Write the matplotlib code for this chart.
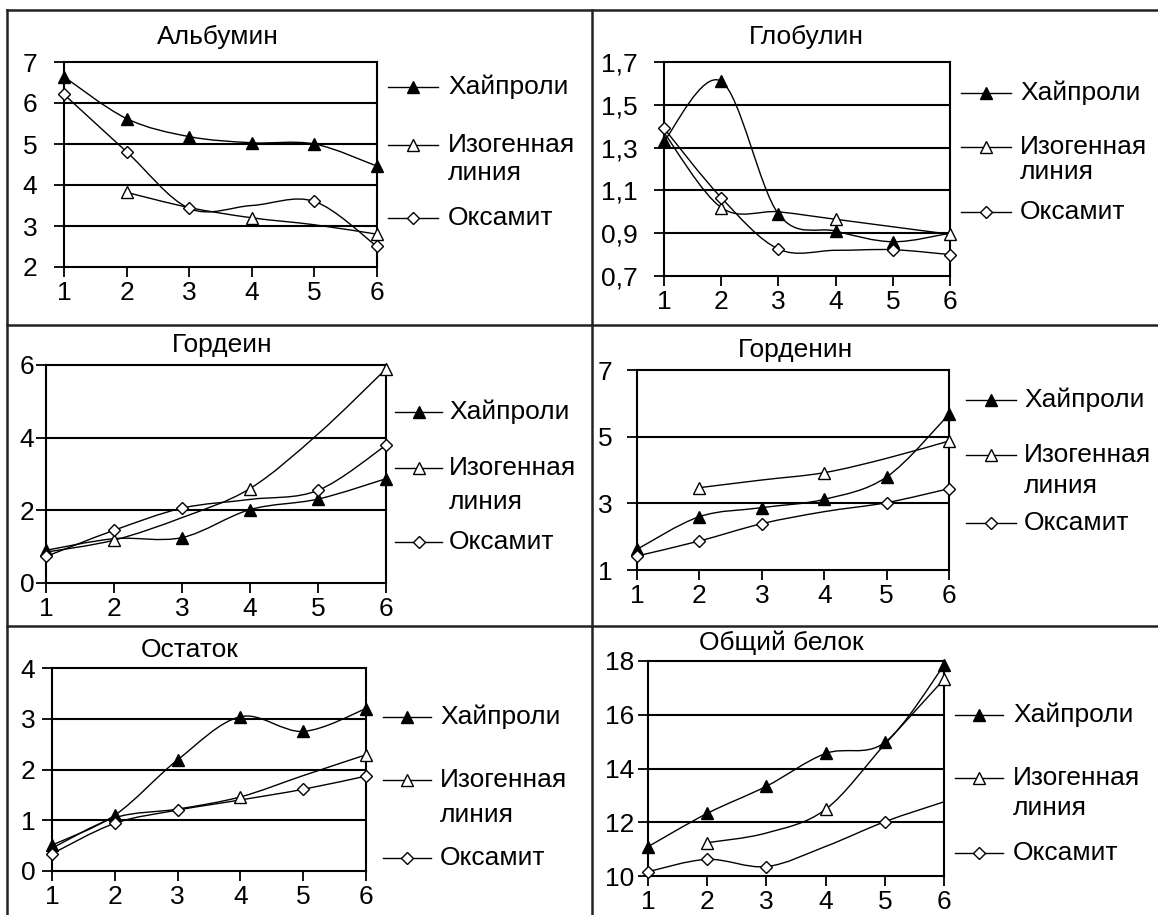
import numpy as np
import matplotlib
matplotlib.use("Agg")
import matplotlib.pyplot as plt
from matplotlib.path import Path
from matplotlib.patches import PathPatch
from matplotlib.lines import Line2D

plt.rcParams['font.family'] = ['Liberation Sans', 'DejaVu Sans']

# ---- data ----
x_points = [1, 2, 3, 4, 5, 6]
series_names = ["Хайпроли", "Изогенная\nлиния", "Оксамит"]
titles = ["Альбумин", "Глобулин", "Гордеин", "Горденин", "Остаток", "Общий белок"]

albumin_hayproli = [6.64, 5.62, 5.18, 5.03, 5.0, 4.46]
albumin_isogenic = [np.nan, 3.82, 3.45, 3.2, 3.03, 2.8]
albumin_oksamit = [6.21, 4.81, 3.43, 3.5, 3.6, 2.5]

globulin_hayproli = [1.33, 1.61, 0.99, 0.91, 0.86, 0.9]
globulin_isogenic = [1.37, 1.02, 1.0, 0.965, 0.93, 0.895]
globulin_oksamit = [1.39, 1.066, 0.826, 0.82, 0.823, 0.80]

hordein_hayproli = [0.9, 1.22, 1.25, 2.02, 2.31, 2.87]
hordein_isogenic = [0.85, 1.18, 1.8, 2.6, 4.1, 5.89]
hordein_oksamit = [0.73, 1.45, 2.06, 2.3, 2.55, 3.79]

hordenin_hayproli = [1.62, 2.6, 2.87, 3.12, 3.79, 5.67]
hordenin_isogenic = [np.nan, 3.47, 3.7, 3.92, 4.35, 4.87]
hordenin_oksamit = [1.42, 1.87, 2.39, 2.75, 3.02, 3.44]

residue_hayproli = [0.51, 1.1, 2.19, 3.04, 2.75, 3.2]
residue_isogenic = [0.45, 1.05, 1.22, 1.46, 1.88, 2.29]
residue_oksamit = [0.34, 0.94, 1.2, 1.4, 1.61, 1.87]

protein_hayproli = [11.09, 12.33, 13.34, 14.56, 14.97, 17.84]
protein_isogenic = [np.nan, 11.24, 11.6, 12.48, 14.9, 17.32]
protein_oksamit = [10.16, 10.62, 10.35, 11.1, 12.02, 12.76]

y_ticks = [
    [2, 3, 4, 5, 6, 7],
    [0.7, 0.9, 1.1, 1.3, 1.5, 1.7],
    [0, 2, 4, 6],
    [1, 3, 5, 7],
    [0, 1, 2, 3, 4],
    [10, 12, 14, 16, 18],
]
y_tick_labels = [
    ["2", "3", "4", "5", "6", "7"],
    ["0,7", "0,9", "1,1", "1,3", "1,5", "1,7"],
    ["0", "2", "4", "6"],
    ["1", "3", "5", "7"],
    ["0", "1", "2", "3", "4"],
    ["10", "12", "14", "16", "18"],
]

# which points carry a visible marker (per panel, per series)
marker_points = [
    [[0, 1, 2, 3, 4, 5], [1, 3, 5], [0, 1, 2, 4, 5]],
    [[0, 1, 2, 3, 4], [1, 3, 5], [0, 1, 2, 4, 5]],
    [[0, 2, 3, 4, 5], [1, 3, 5], [0, 1, 2, 4, 5]],
    [[0, 1, 2, 3, 4, 5], [1, 3, 5], [0, 1, 2, 4, 5]],
    [[0, 1, 2, 3, 4, 5], [3, 5], [0, 1, 2, 4, 5]],
    [[0, 1, 2, 3, 4, 5], [1, 3, 5], [0, 1, 2, 4]],
]

panels = [
    (albumin_hayproli, albumin_isogenic, albumin_oksamit),
    (globulin_hayproli, globulin_isogenic, globulin_oksamit),
    (hordein_hayproli, hordein_isogenic, hordein_oksamit),
    (hordenin_hayproli, hordenin_isogenic, hordenin_oksamit),
    (residue_hayproli, residue_isogenic, residue_oksamit),
    (protein_hayproli, protein_isogenic, protein_oksamit),
]

# ---- layout (pixels) ----
W, H = 1158, 915
fig = plt.figure(figsize=(W / 100, H / 100), dpi=100)

# plot boxes: left, top, right, bottom
boxes = [
    (64, 62, 377, 267),
    (664, 62, 950, 276),
    (46, 365, 386, 583),
    (637, 370, 949, 570),
    (52, 668, 366, 871),
    (648, 661, 944, 876),
]
# gap between y tick ends and their labels, in pixels
y_label_gap = [17, 17, 2, 15, 7, 4]
title_pos = [(218, 37), (806, 37), (222, 345), (796, 350), (190, 650), (781, 643)]
# legend: line start x, line end x, text x, row y's (Хайпроли, Изогенная, линия, Оксамит)
legend_pos = [
    (388, 438, 448, (87, 145, 173, 218)),
    (961, 1011, 1020, (93, 147, 172, 212)),
    (395, 442, 449, (412, 468, 502, 542)),
    (966, 1016, 1024, (400, 455, 486, 523)),
    (383, 431, 440, (717, 780, 815, 858)),
    (955, 1003, 1013, (715, 778, 808, 853)),
]

FS = 19


def fx(px):
    return px / W


def fy(py):
    return 1 - py / H


def smooth_path(xs, ys):
    """Cubic Bezier path through the points (Catmull-Rom style tangents)."""
    pts = np.column_stack([xs, ys]).astype(float)
    verts, codes = [], []
    valid = ~np.isnan(pts[:, 1])
    segs, cur = [], []
    for i, ok in enumerate(valid):
        if ok:
            cur.append(pts[i])
        elif cur:
            segs.append(np.array(cur))
            cur = []
    if cur:
        segs.append(np.array(cur))
    for seg in segs:
        n = len(seg)
        verts.append(seg[0])
        codes.append(Path.MOVETO)
        for i in range(n - 1):
            p0 = seg[i - 1] if i > 0 else seg[i]
            p1 = seg[i]
            p2 = seg[i + 1]
            p3 = seg[i + 2] if i + 2 < n else seg[i + 1]
            c1 = p1 + (p2 - p0) / 6.0
            c2 = p2 - (p3 - p1) / 6.0
            verts += [c1, c2, p2]
            codes += [Path.CURVE4] * 3
    return Path(verts, codes)


marker_styles = [
    dict(marker="^", mfc="black", mec="black", ms=9),
    dict(marker="^", mfc="white", mec="black", ms=9),
    dict(marker="D", mfc="white", mec="black", ms=6),
]

for k, (box, series) in enumerate(zip(boxes, panels)):
    l, t, r, b = box
    ax = fig.add_axes([fx(l), fy(b), fx(r) - fx(l), fy(t) - fy(b)])
    yt = y_ticks[k]
    ax.set_xlim(1, 6)
    ax.set_ylim(yt[0], yt[-1])
    ax.set_xticks(x_points)
    ax.set_xticklabels([str(v) for v in x_points], fontsize=FS)
    ax.set_yticks(yt)
    ax.set_yticklabels(y_tick_labels[k], fontsize=FS)
    ax.tick_params(axis="both", direction="out", length=7, width=1.3, color="black")
    ax.tick_params(axis="y", pad=y_label_gap[k] * 0.72)
    ax.tick_params(axis="x", pad=3)
    for sp in ax.spines.values():
        sp.set_linewidth(1.5)
        sp.set_color("black")
    for v in yt[1:-1]:
        ax.axhline(v, color="black", lw=1.5, zorder=1)
    ax.patch.set_alpha(0)

    for s, ys in enumerate(series):
        patch = PathPatch(smooth_path(x_points, ys), facecolor="none",
                          edgecolor="black", lw=1.0, zorder=2, clip_on=False)
        ax.add_patch(patch)
    for s, ys in enumerate(series):
        idx = marker_points[k][s]
        ax.plot([x_points[i] for i in idx], [ys[i] for i in idx], linestyle="none",
                mew=1.0, zorder=3 + s, clip_on=False, **marker_styles[s])

    tx, ty = title_pos[k]
    fig.text(fx(tx), fy(ty), titles[k], ha="center", va="center", fontsize=FS)

    lx0, lx1, tx0, rows = legend_pos[k]
    ry = [rows[0], rows[1], rows[3]]
    for s in range(3):
        fig.add_artist(Line2D([fx(lx0), fx(lx1)], [fy(ry[s]), fy(ry[s])], color="black", lw=1.0))
        fig.add_artist(Line2D([fx((lx0 + lx1) / 2)], [fy(ry[s])], linestyle="none",
                              mew=1.0, **marker_styles[s]))
    fig.text(fx(tx0), fy(rows[0]), "Хайпроли", ha="left", va="center", fontsize=FS)
    fig.text(fx(tx0), fy(rows[1]), "Изогенная", ha="left", va="center", fontsize=FS)
    fig.text(fx(tx0), fy(rows[2]), "линия", ha="left", va="center", fontsize=FS)
    fig.text(fx(tx0), fy(rows[3]), "Оксамит", ha="left", va="center", fontsize=FS)

# panel frame lines
frame_kw = dict(color="#222222", lw=1.8)
fig.add_artist(Line2D([fx(6.5), fx(6.5)], [fy(10), fy(915)], **frame_kw))
fig.add_artist(Line2D([fx(6.5), fx(1158)], [fy(10), fy(10)], **frame_kw))
fig.add_artist(Line2D([fx(592), fx(592)], [fy(10), fy(915)], **frame_kw))
fig.add_artist(Line2D([fx(6.5), fx(1158)], [fy(325), fy(325)], **frame_kw))
fig.add_artist(Line2D([fx(6.5), fx(1158)], [fy(626), fy(626)], **frame_kw))

fig.savefig("out.png", dpi=100, facecolor="white")
